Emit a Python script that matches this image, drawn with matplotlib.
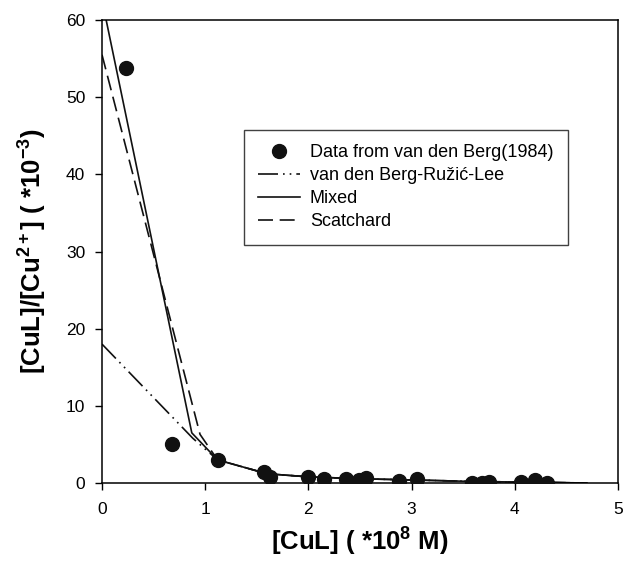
import matplotlib
matplotlib.use("Agg")
import matplotlib.pyplot as plt

plt.rcParams['font.family'] = ['Liberation Sans', 'DejaVu Sans']
plt.rcParams['mathtext.fontset'] = 'custom'
plt.rcParams['mathtext.rm'] = 'Liberation Sans'
plt.rcParams['mathtext.bf'] = 'Liberation Sans:bold'
plt.rcParams['mathtext.it'] = 'Liberation Sans:italic'

# Data from van den Berg (1984)
data_x = [0.23, 0.68, 1.12, 1.57, 1.63, 2.0, 2.15, 2.36, 2.49, 2.56, 2.88, 3.05,
          3.59, 3.68, 3.75, 4.06, 4.2, 4.31]
data_y = [53.8, 5.0, 3.0, 1.4, 0.8, 0.75, 0.55, 0.5, 0.45, 0.6, 0.3, 0.5,
          0.0, 0.05, 0.15, 0.15, 0.4, 0.0]

# Model curves
tail_x = [1.12, 1.6, 2.0, 2.5, 3.0, 3.6, 4.2, 4.7]
tail_y = [3.0, 1.2, 0.8, 0.55, 0.4, 0.2, 0.1, 0.0]

vdb_x = [0.0, 0.88] + tail_x
vdb_y = [18.0, 5.8] + tail_y
mixed_x = [0.0, 0.87] + tail_x
mixed_y = [62.6, 6.5] + tail_y
scat_x = [0.0, 0.95] + tail_x
scat_y = [55.5, 6.3] + tail_y

x_ticks = [0, 1, 2, 3, 4, 5]
y_ticks = [0, 10, 20, 30, 40, 50, 60]

fig = plt.figure(figsize=(6.25, 5.61), dpi=100)
ax = fig.add_axes([0.1632, 0.139, 0.8256, 0.8253])

ax.plot(data_x, data_y, 'o', color='#111111', ms=10, label='Data from van den Berg(1984)', zorder=5)
ax.plot(vdb_x, vdb_y, color='#111111', lw=1.2, dashes=(12, 3, 1, 3, 1, 3),
        label='van den Berg-Ružić-Lee')
ax.plot(mixed_x, mixed_y, color='#111111', lw=1.2, label='Mixed')
ax.plot(scat_x, scat_y, color='#111111', lw=1.2, dashes=(9, 4), label='Scatchard')

ax.set_xlim(0, 5)
ax.set_ylim(0, 60)
ax.set_xticks(x_ticks)
ax.set_yticks(y_ticks)
ax.tick_params(direction='out', length=5, width=1, labelsize=12.5, top=False, right=False)
ax.tick_params(axis='x', pad=9)
ax.tick_params(axis='y', pad=7)
for s in ax.spines.values():
    s.set_linewidth(1.1)

ax.set_xlabel(r'[CuL] ( *10$^{\mathbf{8}}$ M)', fontsize=18.5, fontweight='bold', labelpad=6)
ax.set_ylabel(r'[CuL]/[Cu$^{\mathbf{2+}}$] ( *10$^{\mathbf{-3}}$)', fontsize=18.5, fontweight='bold', labelpad=12)

leg = ax.legend(loc='upper left', bbox_to_anchor=(0.275, 0.763), borderaxespad=0,
                fontsize=13, frameon=True, fancybox=False, edgecolor='#111111',
                handlelength=2.3, borderpad=0.8, labelspacing=0.33, handletextpad=0.55)
leg.get_frame().set_linewidth(1.0)

fig.savefig('out.png', dpi=100)
